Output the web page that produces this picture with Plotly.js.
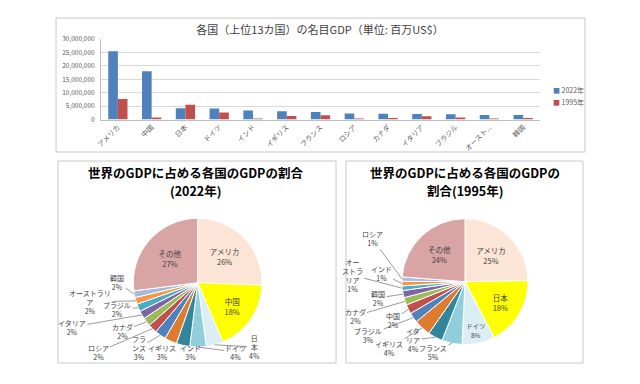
<!DOCTYPE html>
<html>
<head>
<meta charset="utf-8">
<script src="https://cdn.plot.ly/plotly-3.0.1.min.js"></script>
<style>
html,body{margin:0;padding:0;background:#fff;}
#chart{width:640px;height:384px;}
</style>
</head>
<body>
<div id="chart"></div>
<script>
// ---- data (million US$) ----
const categories = ['アメリカ','中国','日本','ドイツ','インド','イギリス','フランス','ロシア','カナダ','イタリア','ブラジル','オーストラリア','韓国'];
const tickLabels = ['アメリカ','中国','日本','ドイツ','インド','イギリス','フランス','ロシア','カナダ','イタリア','ブラジル','オースト...','韓国'];
const gdp2022 = [25460000,17960000,4230000,4080000,3390000,3070000,2780000,2240000,2140000,2010000,1920000,1690000,1670000];
const gdp1995 = [7640000,734000,5450000,2590000,360000,1340000,1600000,340000,600000,1170000,790000,370000,560000];
const otherLabel = 'その他';
const other2022 = 26900000;
const other1995 = 7350000;
const pieOrder1995 = ['アメリカ','日本','ドイツ','フランス','イタリア','イギリス','ブラジル','中国','カナダ','韓国','オーストラリア','インド','ロシア'];
const seriesNames = ['2022年','1995年'];
const barTitle = '各国（上位13カ国）の名目GDP（単位: 百万US$）';
const pieTitle2022 = ['世界のGDPに占める各国のGDPの割合','(2022年)'];
const pieTitle1995 = ['世界のGDPに占める各国のGDPの','割合(1995年)'];

// ---- styles / layout helpers ----
const FONT = '"Noto Sans CJK JP", "Noto Sans", sans-serif';
const TXT = '#404040';
const pieColors = ['#FCE4D6','#FFFF00','#DAEEF3','#92CDDC','#31859C','#DE7B2E','#4F81BD','#C0504D','#9BBB59','#8064A2','#4BACC6','#F79646','#A7BADB','#D9A5A4'];
const W = 640, H = 384;
const dom2022 = {x:[0.2083,0.4095], y:[0.0961,0.4315]};
const dom1995 = {x:[0.6281,0.825], y:[0.1023,0.4305]};
// wrapped display names for outside labels (as wrapped in the picture)
const wrap2022 = {'オーストラリア':'オーストラリ<br>ア','フランス':'フラ<br>ンス','日本':'日<br>本'};
const wrap1995 = {'オーストラリア':'オー<br>ストラ<br>リア','イタリア':'イタ<br>リア'};
// outside label centres in page pixels (layout)
const labelPos2022 = {'日本':[254,347],'ドイツ':[236,352],'インド':[190,352],'イギリス':[162,352],'フランス':[139,348],
  'ロシア':[98,352],'カナダ':[122,331],'イタリア':[72,327],'ブラジル':[117,309],'オーストラリア':[90,302],'韓国':[117,282]};
const labelPos1995 = {'ロシア':[372,238],'インド':[381,273],'オーストラリア':[352,275],'韓国':[378,298],'カナダ':[355,316],
  '中国':[393,320],'ブラジル':[368,335],'イギリス':[389,348],'イタリア':[413,340],'フランス':[433,352]};
const LABEL_SIZE = 7;

const pie22Labels = categories.concat([otherLabel]);
const pie22Values = gdp2022.concat([other2022]);
const pie95Labels = pieOrder1995.concat([otherLabel]);
const pie95Values = pieOrder1995.map(n => gdp1995[categories.indexOf(n)]).concat([other1995]);

const INSIDE_MIN = 0.075;
function positions(vals){
  const s = vals.reduce((a,b)=>a+b,0);
  return vals.map(v => v/s >= INSIDE_MIN ? 'inside' : 'none');
}

// leader-line annotations for small slices: tip at the slice's outer edge (from data)
function outsideLabels(labels, vals, dom, pos, wrap){
  const s = vals.reduce((a,b)=>a+b,0);
  const cx = W*(dom.x[0]+dom.x[1])/2, cy = H*(1-(dom.y[0]+dom.y[1])/2);
  const r = Math.min(W*(dom.x[1]-dom.x[0]), H*(dom.y[1]-dom.y[0]))/2;
  let cum = 0; const out = [];
  vals.forEach((v,i) => {
    const f = v/s; const mid = cum + f/2; cum += f;
    if (f >= INSIDE_MIN) return;
    const th = mid*2*Math.PI;
    const tx = cx + r*Math.sin(th), ty = cy - r*Math.cos(th);
    const p = pos[labels[i]];
    const name = wrap[labels[i]] || labels[i];
    out.push({text:name+'<br>'+Math.round(f*100)+'%', xref:'paper', yref:'paper',
      x:tx/W, y:1-ty/H, ax:p[0]-tx, ay:p[1]-ty, showarrow:true, arrowhead:0, arrowwidth:0.8,
      arrowcolor:'#808080', standoff:0, startstandoff:0,
      font:{family:FONT, size:LABEL_SIZE, color:TXT}});
  });
  return out;
}

const traces = [
  {type:'bar', name:seriesNames[0], x:categories, y:gdp2022, marker:{color:'#4F81BD'}, xaxis:'x', yaxis:'y', showlegend:false},
  {type:'bar', name:seriesNames[1], x:categories, y:gdp1995, marker:{color:'#C0504D'}, xaxis:'x', yaxis:'y', showlegend:false},
  {type:'pie', labels:pie22Labels, values:pie22Values, sort:false, direction:'clockwise', rotation:0,
   domain:dom2022, showlegend:false,
   marker:{colors:pieColors, line:{color:'#ffffff', width:1}},
   textposition:positions(pie22Values), texttemplate:'%{label}<br>%{percent:.0%}',
   insidetextorientation:'horizontal',
   textfont:{family:FONT, size:7.5, color:TXT}, hoverinfo:'label+percent'},
  {type:'pie', labels:pie95Labels, values:pie95Values, sort:false, direction:'clockwise', rotation:0,
   domain:dom1995, showlegend:false,
   marker:{colors:pieColors, line:{color:'#ffffff', width:1}},
   textposition:positions(pie95Values), texttemplate:'%{label}<br>%{percent:.0%}',
   insidetextorientation:'horizontal',
   textfont:{family:FONT, size:7.5, color:TXT}, hoverinfo:'label+percent'}
];

const frame = '#C8C8C8';
const titleFont = {family:FONT, size:12.5, color:'#000000', weight:'bold'};
const annotations = [
  {text:pieTitle2022[0], xref:'paper', yref:'paper', x:195/W, y:1-173/H, xanchor:'center', yanchor:'middle', showarrow:false, font:titleFont},
  {text:pieTitle2022[1], xref:'paper', yref:'paper', x:195/W, y:1-190/H, xanchor:'center', yanchor:'middle', showarrow:false, font:titleFont},
  {text:pieTitle1995[0], xref:'paper', yref:'paper', x:465/W, y:1-173/H, xanchor:'center', yanchor:'middle', showarrow:false, font:titleFont},
  {text:pieTitle1995[1], xref:'paper', yref:'paper', x:465/W, y:1-190/H, xanchor:'center', yanchor:'middle', showarrow:false, font:titleFont},
  // legend for the bar chart
  {text:'<span style="color:#4F81BD">■</span> '+seriesNames[0], xref:'paper', yref:'paper', x:551/W, y:1-90/H, xanchor:'left', yanchor:'middle', showarrow:false, font:{family:FONT, size:7, color:'#595959'}},
  {text:'<span style="color:#C0504D">■</span> '+seriesNames[1], xref:'paper', yref:'paper', x:551/W, y:1-102/H, xanchor:'left', yanchor:'middle', showarrow:false, font:{family:FONT, size:7, color:'#595959'}}
].concat(outsideLabels(pie22Labels, pie22Values, dom2022, labelPos2022, wrap2022))
 .concat(outsideLabels(pie95Labels, pie95Values, dom1995, labelPos1995, wrap1995));

const layout = {
  width:W, height:H,
  margin:{l:0,r:0,t:0,b:0},
  paper_bgcolor:'#ffffff', plot_bgcolor:'#ffffff',
  font:{family:FONT, color:TXT},
  title:{text:barTitle, x:0.5, xanchor:'center', y:1-30/H, yanchor:'middle', font:{family:FONT, size:11, color:TXT}},
  barmode:'group', bargap:0.43, bargroupgap:0,
  xaxis:{domain:[0.1578,0.8438], anchor:'y', tickmode:'array', tickvals:categories, ticktext:tickLabels,
         tickangle:-45, tickfont:{size:7, color:'#595959'}, showline:true, linecolor:'#BFBFBF', ticks:'', showgrid:false},
  yaxis:{domain:[0.6888,0.8984], anchor:'x', range:[0,30000000], dtick:5000000, tickformat:',d',
         tickfont:{size:6.5, color:'#595959'}, gridcolor:'#D9D9D9', showline:true, linecolor:'#BFBFBF', zeroline:false, ticks:'',
         ticklabelstandoff:4},
  showlegend:false,
  shapes:[
    {type:'rect', xref:'paper', yref:'paper', x0:0.0875, x1:0.914, y0:0.6042, y1:0.953, line:{color:frame, width:1}},
    {type:'rect', xref:'paper', yref:'paper', x0:0.0906, x1:0.525, y0:0.0547, y1:0.5807, line:{color:frame, width:1}},
    {type:'rect', xref:'paper', yref:'paper', x0:0.5406, x1:0.9109, y0:0.0547, y1:0.5807, line:{color:frame, width:1}}
  ],
  annotations:annotations
};

Plotly.newPlot('chart', traces, layout, {displayModeBar:false, staticPlot:true});
</script>
</body>
</html>
